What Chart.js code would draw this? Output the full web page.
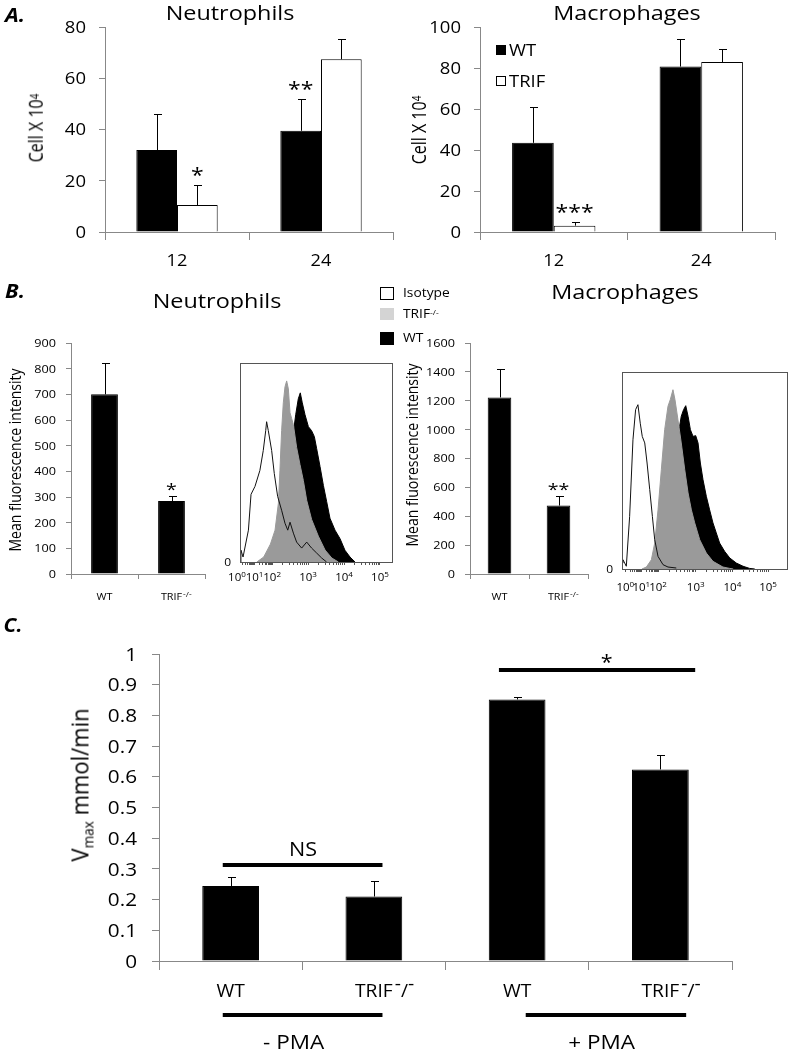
<!DOCTYPE html>
<html><head><meta charset="utf-8">
<script src="https://cdn.jsdelivr.net/npm/chart.js@4.4.1/dist/chart.umd.min.js"></script>
<style>
html,body{margin:0;padding:0;background:#fff}
#page{position:relative;width:790px;height:1050px;overflow:hidden;background:#fff;font-family:'Open Sans',sans-serif;color:#000}
#page canvas{position:absolute;left:0;top:0}
.t{position:absolute;white-space:nowrap;line-height:1}
.sq{position:absolute;box-sizing:border-box}
</style></head><body>
<div id="page">
<canvas id="cANeut" width="790" height="1050"></canvas>
<canvas id="cAMac" width="790" height="1050"></canvas>
<canvas id="cBNeut" width="790" height="1050"></canvas>
<canvas id="cBNeutHist" width="790" height="1050"></canvas>
<canvas id="cBMac" width="790" height="1050"></canvas>
<canvas id="cBMacHist" width="790" height="1050"></canvas>
<canvas id="cC" width="790" height="1050"></canvas>
</div>
<script>
// ================= DATA =================
// Panel A: cell counts (x10^4) at 12 h and 24 h
const timePoints = ['12', '24'];
const neutWT = [32, 39.5];
const neutWTErr = [14, 12.3];
const neutTRIF = [10.5, 67.4];
const neutTRIFErr = [7.8, 7.8];
const neutWTStars = ['', '**'];
const neutTRIFStars = ['*', ''];
const macWT = [43.5, 80.7];
const macWTErr = [17.3, 13.4];
const macTRIF = [3.1, 82.9];
const macTRIFErr = [1.8, 6.3];
const macWTStars = ['', ''];
const macTRIFStars = ['***', ''];

// Panel B: mean fluorescence intensity
const genotypes = ['WT', 'TRIF'];
const genotypeSup = ['', '-/-'];
const mfiNeut = [700, 284];
const mfiNeutErr = [121, 20];
const mfiNeutStars = ['', '*'];
const mfiMac = [1223, 474];
const mfiMacErr = [197, 67];
const mfiMacStars = ['', '**'];

// Panel B histograms: [display channel (0-100), relative count (% of max)]
const decadeExponents = ['0', '1', '2', '3', '4', '5'];
const neutDecadeChannels = [-2, 9.5, 21, 44.5, 68, 91.5];
const macDecadeChannels = [2, 11.6, 21.7, 44.4, 66.5, 88];
const neutIsotype = [[0,0],[0.6,6],[2,2.5],[5.5,16],[7.2,34],[9.8,38],[13,46],[15.2,56],[16.8,66],[17.4,70.5],[18.5,66],[20.7,56],[22.4,44.5],[24.6,33],[27.2,26],[29.4,19.5],[31.2,16],[32.7,20],[34.9,14.5],[37,10],[40.3,7],[43.6,10],[46.8,7],[50.1,4.5],[53.4,2],[56.6,0]];
const neutTRIFHist = [[11,0],[15.5,2.5],[19.9,9],[22.9,16],[25.1,29.6],[26.1,46],[27.2,66],[28.3,80],[29.4,88],[30.5,91],[31.6,87],[32.7,75],[33.8,72],[34.9,69],[37,57.6],[39.2,49],[41.4,41],[43.6,31],[46.8,21.4],[51.2,13],[55.6,6],[60,2],[64.3,0]];
const neutWTHist = [[33.5,0],[34.9,65],[36.4,74],[38.1,82],[39.4,85],[40.7,80],[42.5,74],[44.7,68],[46.8,66],[48.6,63],[50.1,57],[52.3,48],[54.5,38.5],[56.6,30.5],[58.8,22],[62.1,16],[65.4,11.7],[68.6,5.9],[71.9,2.5],[75.2,0]];
const macIsotype = [[0,3],[0.6,4.7],[2.6,1.4],[4.6,26.7],[6.6,65.6],[8.2,80.9],[9.6,83.4],[11,74],[12.2,67.3],[13.7,64],[15.1,53.8],[16.7,40.3],[18.3,26.7],[19.7,14.9],[21.7,6.4],[24.7,2.2],[27.7,1],[32.7,0.5]];
const macTRIFHist = [[12,0],[14.7,1],[17.7,4.7],[19.7,13.2],[21.7,30],[23.7,50.4],[25.7,70.7],[27.7,82.6],[29.1,86],[30.7,91],[31.9,86],[33.7,75.8],[35.7,64],[37.8,50.4],[39.8,38.6],[41.8,30],[43.8,23.4],[46.8,14.9],[50.8,8.1],[54.8,3.9],[60.8,1],[64.9,0.3],[67,0]];
const macWTHist = [[33,0],[34.7,72.4],[35.7,77.5],[37.1,80.9],[38.4,82.9],[39.8,77.5],[41.2,70.7],[42.8,67.3],[44.4,67.7],[45.8,64],[47.2,53.8],[48.8,45.3],[50.8,36.9],[52.8,30],[54.8,23.4],[56.8,18.3],[58.8,13.2],[61.8,9],[64.9,5.6],[68.9,3],[72.9,1.4],[76.9,0.3],[80,0]];

// Panel C: Vmax (mmol/min)
const vmaxGroups = ['WT', 'TRIF', 'WT', 'TRIF'];
const vmaxSup = ['', '-/-', '', '-/-'];
const vmax = [0.244, 0.21, 0.852, 0.624];
const vmaxErr = [0.028, 0.05, 0.007, 0.046];
const bracketLabel = ['NS', '*'];
const bracketValue = [0.313, 0.948];
const bracketFrom = [-0.055, 1.873];
const bracketTo = [1.06, 3.243];
const pmaLabels = ['- PMA', '+ PMA'];
const pmaFrom = [-0.055, 2.06];
const pmaTo = [1.06, 3.18];
const pmaLabelAt = [0.44, 2.59];

// ================= HELPERS =================
const FONT = "'Open Sans', sans-serif";
const AX = '#888888';
const page = document.getElementById('page');

function fontStr(o){ return `${o.italic?'italic ':''}${o.weight||'normal'} ${o.size}px ${FONT}`; }
function measure(ctx, s, o){ ctx.save(); ctx.font = fontStr(o); const w = ctx.measureText(s).width*(o.stretch||1); ctx.restore(); return w; }
function drawText(ctx, s, x, y, o){
  ctx.save(); ctx.font = fontStr(o); ctx.fillStyle = o.color||'#000';
  ctx.textAlign = o.align||'center'; ctx.textBaseline = 'alphabetic';
  ctx.translate(x, y); ctx.scale(o.stretch||1, 1); ctx.fillText(s, 0, 0); ctx.restore();
}
function richLabel(ctx, base, sup, x, cy, st){
  const by = cy + 0.357*st.size;
  const bw = measure(ctx, base, st);
  drawText(ctx, base, x, by, Object.assign({}, st, {align:'center'}));
  if (!sup) return;
  const ss = Object.assign({}, st, {size: st.supSize||st.size, align:'left'});
  let px = x + bw/2 + (st.supGap||0);
  for (const ch of sup) {
    const raise = ch === '-' ? st.supRaise : (st.slashRaise||0);
    drawText(ctx, ch, px, by - raise, ss);
    px += measure(ctx, ch, ss);
  }
}
function line(ctx, x0, y0, x1, y1, w){ ctx.save(); ctx.strokeStyle='#000'; ctx.lineWidth=w; ctx.beginPath(); ctx.moveTo(x0,y0); ctx.lineTo(x1,y1); ctx.stroke(); ctx.restore(); }

const decor = {
  id: 'decor',
  afterDatasetsDraw(chart, args, o){
    const ctx = chart.ctx, a = chart.chartArea, xs = chart.scales.x, ys = chart.scales.y;
    if (o.frame) { ctx.save(); ctx.strokeStyle = o.frame; ctx.lineWidth = 1; ctx.strokeRect(Math.round(a.left)+0.5, Math.round(a.top)+0.5, Math.round(a.right-a.left)-1, Math.round(a.bottom-a.top)); ctx.restore(); }
    if (o.yLabels) {
      const st = o.yLabels;
      ys.ticks.forEach(t => {
        const y = ys.getPixelForValue(t.value);
        const s = String(+t.value.toFixed(4));
        drawText(ctx, s, a.left - st.gap, y + 0.357*st.size, Object.assign({}, st, {align:'right'}));
      });
    }
    (o.errors||[]).forEach(e => {
      const meta = chart.getDatasetMeta(e.ds);
      const vals = chart.data.datasets[e.ds].data;
      e.err.forEach((er, i) => {
        const bar = meta.data[i];
        const x = Math.round(bar.x) + 0.5;
        const y0 = ys.getPixelForValue(vals[i]);
        const y1 = Math.round(ys.getPixelForValue(vals[i] + er)) + 0.5;
        const c = o.errStyle.cap/2;
        line(ctx, x, y0, x, y1, 1);
        line(ctx, x - c, y1, x + c + 1, y1, 1);
        if (e.stars && e.stars[i]) {
          const st = o.starStyle;
          drawText(ctx, e.stars[i], bar.x, y1 - st.dy + 0.57*st.size, st);
        }
      });
    });
    if (o.xLabels) {
      const st = o.xLabels;
      st.texts.forEach((t, i) => richLabel(ctx, t, st.sups ? st.sups[i] : '', xs.getPixelForValue(i), a.bottom + st.dy, st));
    }
    if (o.brackets) {
      const st = o.brackets;
      const step = xs.getPixelForValue(1) - xs.getPixelForValue(0), x0p = xs.getPixelForValue(0);
      st.labels.forEach((lab, i) => {
        const y = ys.getPixelForValue(st.values[i]);
        const x0 = x0p + st.from[i]*step, x1 = x0p + st.to[i]*step;
        line(ctx, x0, y, x1, y, st.width);
        const cx = (x0 + x1)/2 + (st.labelShift ? st.labelShift[i] : 0);
        const k = lab === '*' ? 0.57 : 0.357;
        drawText(ctx, lab, cx, y - st.gaps[i] + k*st.size, st);
      });
    }
    if (o.groups) {
      const st = o.groups;
      const step = xs.getPixelForValue(1) - xs.getPixelForValue(0), x0p = xs.getPixelForValue(0);
      st.labels.forEach((lab, i) => {
        const y = a.bottom + st.lineDy;
        line(ctx, x0p + st.from[i]*step, y, x0p + st.to[i]*step, y, st.width);
        drawText(ctx, lab, x0p + st.at[i]*step, a.bottom + st.textDy + 0.357*st.size, st);
      });
    }
    if (o.decades) {
      const st = o.decades;
      st.channels.forEach((ch, i) => {
        const x = xs.getPixelForValue(ch);
        const by = a.bottom + st.dy + 0.357*st.size;
        const bw = measure(ctx, '10', st), sw = measure(ctx, st.exps[i], Object.assign({}, st, {size: st.supSize}));
        const left = x - (bw + sw)/2;
        drawText(ctx, '10', left, by, Object.assign({}, st, {align:'left'}));
        drawText(ctx, st.exps[i], left + bw, by - st.supRaise, Object.assign({}, st, {align:'left', size: st.supSize}));
      });
    }
  }
};
Chart.register(decor);

function mk(id, area, wy, hx, cfg){
  const o = cfg.options;
  o.responsive = false; o.animation = false; o.devicePixelRatio = 1; o.events = [];
  o.layout = { padding: { left: area.l - wy, top: area.t, right: 790 - area.r, bottom: 1050 - area.b - hx } };
  o.plugins = Object.assign({ legend:{display:false}, tooltip:{enabled:false}, title:{display:false} }, o.plugins);
  o.scales.x.afterFit = s => { s.height = hx; s.paddingLeft = 0; s.paddingRight = 0; s.paddingTop = 0; s.paddingBottom = 0; };
  o.scales.y.afterFit = s => { s.width = wy; s.paddingTop = 0; s.paddingBottom = 0; s.paddingLeft = 0; s.paddingRight = 0; };
  return new Chart(document.getElementById(id), cfg);
}

function catX(tick){ return { ticks:{display:false}, grid:{offset:true, drawOnChartArea:false, tickLength:tick, color:AX, lineWidth:1}, border:{color:AX, width:1} }; }
function valY(max, step, tick){ return { min:0, max:max, ticks:{stepSize:step, display:false}, grid:{drawOnChartArea:false, tickLength:tick, color:AX, lineWidth:1}, border:{color:AX, width:1} }; }

// ================= PANEL A =================
function panelA(id, area, wt, wtErr, trif, trifErr, wtStars, trifStars, maxV){
  mk(id, area, 10, 10, {
    type:'bar',
    data:{ labels: timePoints, datasets:[
      { data: wt, backgroundColor:'#000', borderColor:'#000', borderWidth:1, categoryPercentage:0.565, barPercentage:1 },
      { data: trif, backgroundColor:'#fff', borderColor:'#000', borderWidth:1, categoryPercentage:0.565, barPercentage:1 }
    ]},
    options:{
      scales:{ x: catX(8), y: valY(maxV, 20, 6) },
      plugins:{ decor:{
        yLabels:{ size:16.5, stretch:1.12, gap:19 },
        errors:[ {ds:0, err:wtErr, stars:wtStars}, {ds:1, err:trifErr, stars:trifStars} ],
        errStyle:{ cap:7 },
        starStyle:{ size:20, stretch:1.15, dy:15 },
        xLabels:{ texts: timePoints, size:16.5, stretch:1.1, dy:28 }
      }}
    }
  });
}
panelA('cANeut', {l:105, t:27, r:393, b:232}, neutWT, neutWTErr, neutTRIF, neutTRIFErr, neutWTStars, neutTRIFStars, 80);
panelA('cAMac', {l:480, t:27, r:775, b:232}, macWT, macWTErr, macTRIF, macTRIFErr, macWTStars, macTRIFStars, 100);

// ================= PANEL B bars =================
function panelBBars(id, area, vals, errs, stars, maxV){
  mk(id, area, 10, 10, {
    type:'bar',
    data:{ labels: genotypes, datasets:[
      { data: vals, backgroundColor:'#000', borderColor:'#000', borderWidth:1, categoryPercentage:1, barPercentage:0.4 }
    ]},
    options:{
      scales:{ x: catX(5), y: valY(maxV, maxV === 900 ? 100 : 200, 5) },
      plugins:{ decor:{
        yLabels:{ size:11, stretch:1.15, gap:15 },
        errors:[ {ds:0, err:errs, stars:stars} ],
        errStyle:{ cap:7 },
        starStyle:{ size:17, stretch:1.15, dy:11.5 },
        xLabels:{ texts: genotypes, sups: genotypeSup, size:9, stretch:1.2, dy:23, supSize:7, supRaise:4, slashRaise:3, supGap:1 }
      }}
    }
  });
}
panelBBars('cBNeut', {l:71, t:343, r:205, b:574}, mfiNeut, mfiNeutErr, mfiNeutStars, 900);
panelBBars('cBMac', {l:470, t:343, r:588, b:574}, mfiMac, mfiMacErr, mfiMacStars, 1600);

// ================= PANEL B histograms =================
function decadeTicks(ch){
  const t = [];
  for (let i = 0; i < ch.length; i++) {
    if (ch[i] >= 0 && ch[i] <= 100) t.push(ch[i]);
    if (i < ch.length - 1) for (let k = 2; k < 10; k++) { const v = ch[i] + Math.log10(k)*(ch[i+1]-ch[i]); if (v >= 0 && v <= 100) t.push(v); }
  }
  return t;
}
function panelBHist(id, area, iso, trif, wt, channels, labelDy){
  const pts = arr => arr.map(p => ({x:p[0], y:p[1]}));
  mk(id, area, 2, 4, {
    type:'line',
    data:{ datasets:[
      { data: pts(iso), borderColor:'#111', borderWidth:1, fill:false, pointRadius:0, tension:0 },
      { data: pts(trif), borderColor:'#9a9a9a', backgroundColor:'#9a9a9a', borderWidth:1, fill:'origin', pointRadius:0, tension:0 },
      { data: pts(wt), borderColor:'#000', backgroundColor:'#000', borderWidth:1, fill:'origin', pointRadius:0, tension:0 }
    ]},
    options:{
      scales:{
        x:{ type:'linear', min:0, max:100, ticks:{display:false}, grid:{drawOnChartArea:false, tickLength:3, color:'#555'}, border:{display:false},
            afterBuildTicks: s => { s.ticks = decadeTicks(channels).map(v => ({value:v})); } },
        y:{ type:'linear', min:0, max:100, ticks:{display:false}, grid:{drawOnChartArea:false, drawTicks:false}, border:{display:false},
            afterBuildTicks: s => { s.ticks = [{value:0}]; } }
      },
      plugins:{ decor:{
        frame:'#555',
        yLabels:{ size:10, stretch:1.2, gap:9 },
        decades:{ channels: channels, exps: decadeExponents, size:10, stretch:1.15, supSize:7, supRaise:4, dy:labelDy }
      }}
    }
  });
}
panelBHist('cBNeutHist', {l:240, t:363, r:393, b:562}, neutIsotype, neutTRIFHist, neutWTHist, neutDecadeChannels, 15);
panelBHist('cBMacHist', {l:622, t:372, r:788, b:569}, macIsotype, macTRIFHist, macWTHist, macDecadeChannels, 18);

// ================= PANEL C =================
mk('cC', {l:159, t:654, r:732, b:961}, 10, 12, {
  type:'bar',
  data:{ labels: vmaxGroups, datasets:[
    { data: vmax, backgroundColor:'#000', borderColor:'#000', borderWidth:1, categoryPercentage:1, barPercentage:0.396 }
  ]},
  options:{
    scales:{ x: catX(9), y: valY(1, 0.1, 7) },
    plugins:{ decor:{
      yLabels:{ size:18.5, stretch:1.12, gap:22 },
      errors:[ {ds:0, err: vmaxErr} ],
      errStyle:{ cap:7 },
      xLabels:{ texts: vmaxGroups, sups: vmaxSup, size:17.5, stretch:1.1, dy:30, supSize:17.5, supRaise:7, slashRaise:0, supGap:2 },
      brackets:{ labels: bracketLabel, values: bracketValue, from: bracketFrom, to: bracketTo, width:4, size:20.5, stretch:1.05, gaps:[16, 13], labelShift:[0.5, 9.5] },
      groups:{ labels: pmaLabels, from: pmaFrom, to: pmaTo, at: pmaLabelAt, lineDy:54, textDy:81, width:4, size:20.5, stretch:1.1 }
    }}
  }
});

// ================= TEXT (HTML) =================
function addText(html, x, y, size, o = {}){
  const d = document.createElement('div');
  d.className = 't'; d.innerHTML = html;
  d.style.left = x + 'px'; d.style.top = y + 'px'; d.style.fontSize = size + 'px';
  if (o.weight) d.style.fontWeight = o.weight;
  if (o.italic) d.style.fontStyle = 'italic';
  const s = o.stretch || 1;
  if (o.rot) d.style.transform = `translate(-50%,-50%) rotate(-90deg) scaleY(${s})`;
  else if (o.align === 'left') { d.style.transformOrigin = '0 50%'; d.style.transform = `translate(0,-50%) scaleX(${s})`; }
  else d.style.transform = `translate(-50%,-50%) scaleX(${s})`;
  page.appendChild(d);
}
function addSq(x, y, w, h, bg, border){
  const d = document.createElement('div'); d.className = 'sq';
  Object.assign(d.style, {left:x+'px', top:y+'px', width:w+'px', height:h+'px', background:bg, border: border || 'none'});
  page.appendChild(d);
}
const SUP = t => `<span style="position:relative;top:-0.45em;font-size:0.62em">${t}</span>`;
const SUB = t => `<span style="position:relative;top:0.3em;font-size:0.62em">${t}</span>`;

// panel letters
addText('A.', 15, 15, 19, {weight:700, italic:true, stretch:1.15});
addText('B.', 15, 291, 19, {weight:700, italic:true, stretch:1.15});
addText('C.', 13, 625, 19, {weight:700, italic:true, stretch:1.1});
// titles
addText('Neutrophils', 230, 13, 19.5, {stretch:1.2});
addText('Macrophages', 627, 13, 19.5, {stretch:1.2});
addText('Neutrophils', 217, 301, 19.5, {stretch:1.2});
addText('Macrophages', 625, 292, 19.5, {stretch:1.2});
// axis titles
addText('Cell X 10' + SUP('4'), 36, 128, 16, {rot:true, stretch:1.2});
addText('Cell X 10' + SUP('4'), 419, 130, 16, {rot:true, stretch:1.2});
addText('Mean fluorescence intensity', 15, 460, 14, {rot:true, stretch:1.15});
addText('Mean fluorescence intensity', 412, 455, 14, {rot:true, stretch:1.15});
addText('V' + SUB('max') + ' mmol/min', 79, 785, 22, {rot:true, stretch:1.1});
// panel A legend
addSq(496, 45, 10, 10, '#000');
addText('WT', 509, 50, 16, {align:'left', stretch:1.15});
addSq(496, 76, 10, 10, '#fff', '1px solid #000');
addText('TRIF', 509, 81, 16, {align:'left', stretch:1.15});
// panel B legend
addSq(380, 287, 14, 13, '#fff', '1px solid #000');
addText('Isotype', 403, 293, 12, {align:'left', stretch:1.15});
addSq(380, 308, 14, 12, '#d4d4d4');
addText('TRIF' + SUP('-/-'), 403, 314, 12, {align:'left', stretch:1.15});
addSq(380, 332, 14, 13, '#000');
addText('WT', 403, 338, 12, {align:'left', stretch:1.15});
</script>
</body></html>
